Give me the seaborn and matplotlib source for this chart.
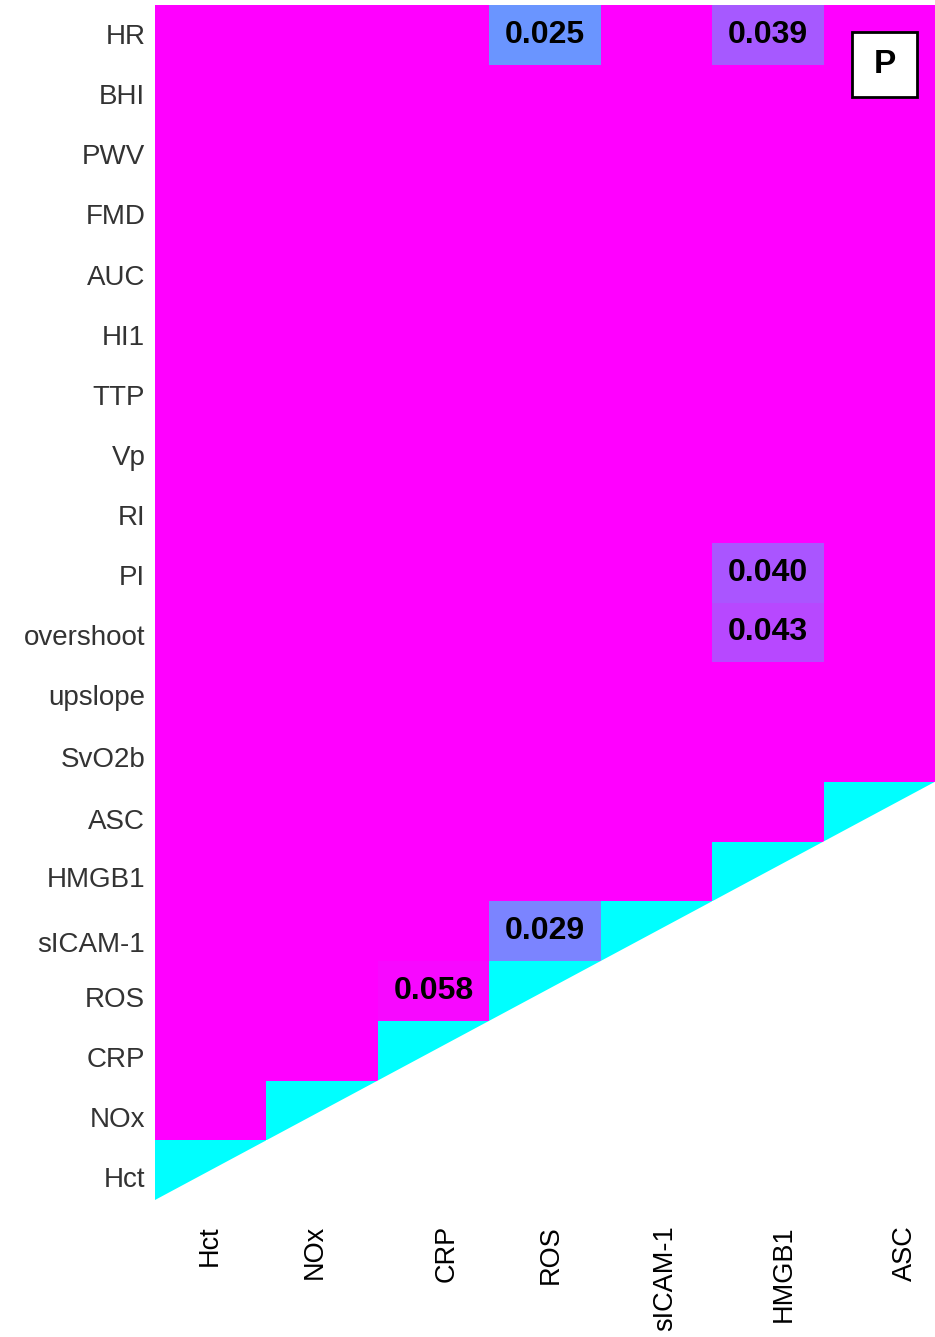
import numpy as np
import pandas as pd
import matplotlib
matplotlib.use("Agg")
import matplotlib.pyplot as plt
import seaborn as sns
from matplotlib.patches import Polygon, Rectangle

plt.rcParams["font.family"] = ["Liberation Sans", "DejaVu Sans"]

# Outcome variables (rows, top to bottom) and biomarkers (columns)
row_labels = ["HR", "BHI", "PWV", "FMD", "AUC", "HI1", "TTP", "Vp", "RI", "PI",
              "overshoot", "upslope", "SvO2b", "ASC", "HMGB1", "sICAM-1",
              "ROS", "CRP", "NOx", "Hct"]
col_labels = ["Hct", "NOx", "CRP", "ROS", "sICAM-1", "HMGB1", "ASC"]

# p-values of the correlations; 1.0 = not significant, NaN = redundant half
N = np.nan
p_values = [
    [1, 1, 1, 0.025, 1, 0.039, 1],      # HR
    [1, 1, 1, 1, 1, 1, 1],              # BHI
    [1, 1, 1, 1, 1, 1, 1],              # PWV
    [1, 1, 1, 1, 1, 1, 1],              # FMD
    [1, 1, 1, 1, 1, 1, 1],              # AUC
    [1, 1, 1, 1, 1, 1, 1],              # HI1
    [1, 1, 1, 1, 1, 1, 1],              # TTP
    [1, 1, 1, 1, 1, 1, 1],              # Vp
    [1, 1, 1, 1, 1, 1, 1],              # RI
    [1, 1, 1, 1, 1, 0.040, 1],          # PI
    [1, 1, 1, 1, 1, 0.043, 1],          # overshoot
    [1, 1, 1, 1, 1, 1, 1],              # upslope
    [1, 1, 1, 1, 1, 1, 1],              # SvO2b
    [1, 1, 1, 1, 1, 1, 0],              # ASC
    [1, 1, 1, 1, 1, 0, N],              # HMGB1
    [1, 1, 1, 0.029, 0, N, N],          # sICAM-1
    [1, 1, 0.058, 0, N, N, N],          # ROS
    [1, 1, 0, N, N, N, N],              # CRP
    [1, 0, N, N, N, N, N],              # NOx
    [0, N, N, N, N, N, N],              # Hct
]

df = pd.DataFrame(p_values, index=row_labels, columns=col_labels, dtype=float)

# label only the cells that carry an informative p-value
annot = df.map(lambda v: f"{v:.3f}" if (v == v and 0 < v < 1) else "")

fig = plt.figure(figsize=(9.35, 13.37), dpi=100)
ax = fig.add_axes([155 / 935, 137 / 1337, 780 / 935, 1195 / 1337])

sns.heatmap(df, ax=ax, cmap="cool", vmin=0, vmax=0.06, cbar=False,
            annot=annot.values, fmt="",
            annot_kws=dict(size=23, weight="bold", color="black"),
            xticklabels=col_labels, yticklabels=row_labels)

# white wedge hiding the lower-right half of the matrix
n_rows, n_cols = df.shape
ax.add_patch(Polygon([(0, n_rows), (n_cols, n_rows - n_cols), (n_cols, n_rows)],
                     closed=True, facecolor="white", edgecolor="none", zorder=2.5))

# hand-placed label positions (slightly staggered layout)
ytick_pos = [0.54, 1.54, 2.54, 3.54, 4.57, 5.57, 6.58, 7.58, 8.59, 9.59,
             10.59, 11.60, 12.64, 13.67, 14.64, 15.73, 16.65, 17.66, 18.66, 19.67]
xtick_pos = [0.49, 1.43, 2.62, 3.55, 4.58, 5.64, 6.73]
ax.set_yticks(ytick_pos, row_labels)
ax.set_xticks(xtick_pos, col_labels)

ax.tick_params(axis="both", length=0)
ax.tick_params(axis="x", pad=18, labelsize=19.5, labelcolor="black")
ax.tick_params(axis="y", pad=7, labelsize=20, labelcolor="#333333")
plt.setp(ax.get_xticklabels(), rotation=90)
plt.setp(ax.get_yticklabels(), rotation=0)
ax.set_xlabel("")
ax.set_ylabel("")

# panel tag
ax.add_patch(Rectangle((0.8936, 0.923), 0.0833, 0.0544, transform=ax.transAxes,
                       facecolor="white", edgecolor="black", linewidth=2, zorder=4))
ax.text(0.8936 + 0.0833 / 2, 0.923 + 0.0544 / 2, "P", transform=ax.transAxes,
        ha="center", va="center", fontsize=24, fontweight="bold", zorder=5)

fig.savefig("out.png", dpi=100)
